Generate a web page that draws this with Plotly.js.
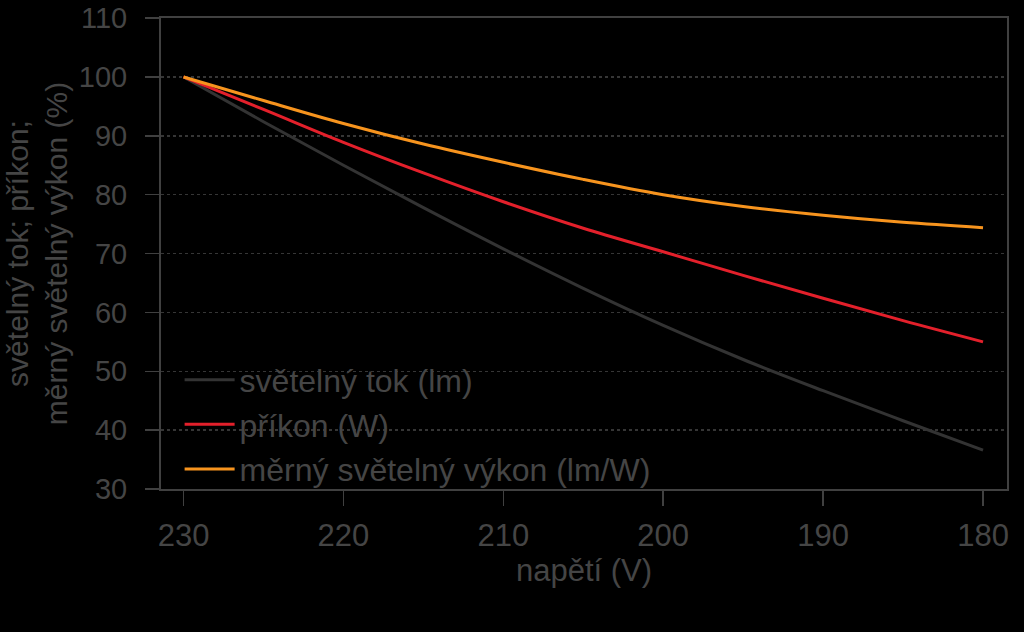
<!DOCTYPE html>
<html>
<head>
<meta charset="utf-8">
<script src="https://cdn.plot.ly/plotly-3.0.1.min.js"></script>
<style>
  html, body { margin: 0; padding: 0; background: #000; }
  #chart { width: 1024px; height: 632px; }
</style>
</head>
<body>
<div id="chart"></div>
<script>
// napětí (V), values
const voltage = [230, 225, 220, 215, 210, 205, 200, 195, 190, 185, 180];

const luminousFlux = [100, 92.4, 85.0, 77.8, 70.8, 64.1, 57.8, 52.0, 46.7, 41.6, 36.6];
const powerInput = [100, 94.5, 88.9, 83.7, 78.8, 74.3, 70.3, 66.3, 62.4, 58.6, 55.0];
const efficacy = [100, 96.0, 92.1, 88.6, 85.5, 82.6, 80.0, 78.0, 76.5, 75.3, 74.4];

const seriesNames = ["světelný tok (lm)", "příkon (W)", "měrný světelný výkon (lm/W)"];
const seriesColors = ["#333333", "#e3202b", "#f7941e"];

const xTicks = [230, 220, 210, 200, 190, 180];
const yTicks = [30, 40, 50, 60, 70, 80, 90, 100, 110];

const FONT = "Liberation Sans, Arial, sans-serif";
const TEXT = "#454545";
const AXIS = "#404040";

const traces = [luminousFlux, powerInput, efficacy].map((values, i) => ({
  x: voltage,
  y: values,
  type: "scatter",
  mode: "lines",
  name: seriesNames[i],
  line: { color: seriesColors[i], width: 3, shape: "spline", smoothing: 1 },
}));

const layout = {
  width: 1024,
  height: 632,
  paper_bgcolor: "#000000",
  plot_bgcolor: "#000000",
  margin: { l: 161, r: 17, t: 18, b: 143, autoexpand: false },
  font: { family: FONT, color: TEXT, size: 31 },
  showlegend: true,
  legend: {
    x: 0.022,
    y: 0.29,
    xanchor: "left",
    yanchor: "top",
    bgcolor: "rgba(0,0,0,0)",
    font: { family: FONT, color: TEXT, size: 32 },
    tracegroupgap: 0,
    itemwidth: 50,
  },
  xaxis: {
    range: [231.41, 178.5],
    tickvals: xTicks,
    ticks: "outside",
    ticklen: 15,
    tickwidth: 1.5,
    tickcolor: AXIS,
    showline: true,
    linecolor: AXIS,
    linewidth: 2,
    mirror: true,
    showgrid: false,
    zeroline: false,
    ticklabeloverflow: "allow",
    tickfont: { family: FONT, color: TEXT, size: 31 },
    ticklabelstandoff: 3,
    title: { text: "napětí (V)", font: { family: FONT, color: TEXT, size: 31 }, standoff: 6 },
  },
  yaxis: {
    range: [30, 110.02],
    tickmode: "array",
    tickvals: yTicks,
    ticks: "outside",
    ticklen: 14,
    tickwidth: 1.5,
    tickcolor: AXIS,
    showline: true,
    linecolor: AXIS,
    linewidth: 2,
    mirror: true,
    showgrid: true,
    gridcolor: "#363636",
    griddash: "dot",
    gridwidth: 1.5,
    zeroline: false,
    automargin: false,
    ticklabeloverflow: "allow",
    tickfont: { family: FONT, color: TEXT, size: 29 },
    ticklabelstandoff: 12,
    title: {
      text: "světelný tok; příkon;<br>měrný světelný výkon (%)",
      font: { family: FONT, color: TEXT, size: 30 },
      standoff: 2,
    },
  },
};

Plotly.newPlot("chart", traces, layout, { displayModeBar: false, staticPlot: true });
</script>
</body>
</html>
